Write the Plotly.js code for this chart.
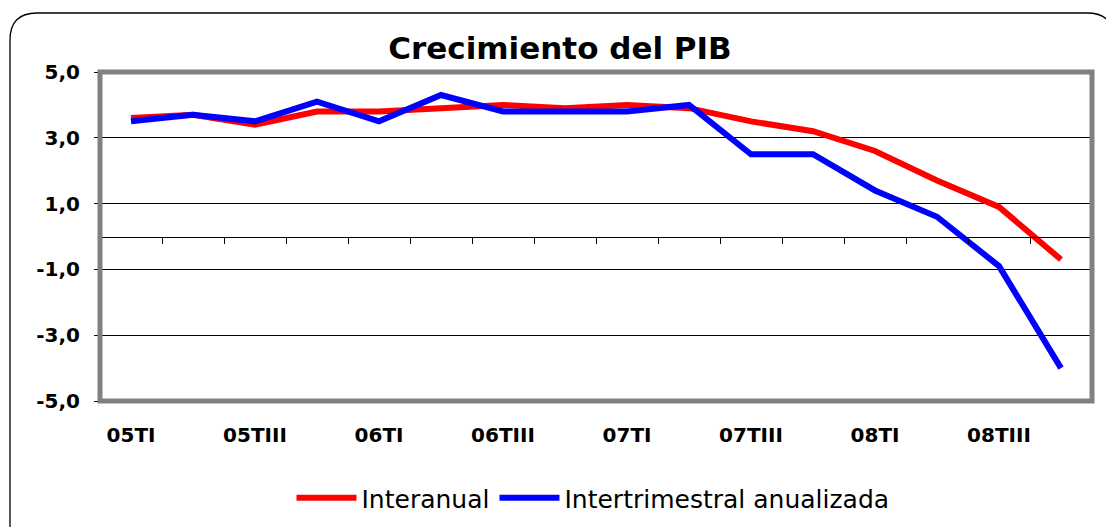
<!DOCTYPE html>
<html>
<head>
<meta charset="utf-8">
<script src="https://cdn.plot.ly/plotly-3.0.1.min.js"></script>
<style>html,body{margin:0;padding:0;background:#fff;}#chart{width:1106px;height:527px;}</style>
</head>
<body>
<div id="chart"></div>
<script>
var categories = ["05TI","05TII","05TIII","05TIV","06TI","06TII","06TIII","06TIV","07TI","07TII","07TIII","07TIV","08TI","08TII","08TIII","08TIV"];
var interanual = [3.6,3.7,3.4,3.8,3.8,3.9,4.0,3.9,4.0,3.9,3.5,3.2,2.6,1.7,0.9,-0.7];
var intertrimestral = [3.5,3.7,3.5,4.1,3.5,4.3,3.8,3.8,3.8,4.0,2.5,2.5,1.4,0.6,-0.9,-4.0];
var yTicks = [-5,-3,-1,1,3,5];
var xTickLabels = ["05TI","05TIII","06TI","06TIII","07TI","07TIII","08TI","08TIII"];
var seriesNames = ["Interanual","Intertrimestral anualizada"];

var W = 1106, H = 527;
var M = {l:100, r:14, t:72, b:126};
var pw = W - M.l - M.r, ph = H - M.t - M.b;
function px(x){ return (x - M.l)/pw; }
function py(y){ return (H - M.b - y)/ph; }

// outer rounded frame (pixel geometry converted to paper)
var L=10, T=13, R=1114, B=545, rad=27;
var framePath = 'M'+px(L)+','+py(B)+' L'+px(L)+','+py(T+rad)+
  ' Q'+px(L)+','+py(T)+' '+px(L+rad)+','+py(T)+
  ' L'+px(R-rad)+','+py(T)+' Q'+px(R)+','+py(T)+' '+px(R)+','+py(T+rad)+
  ' L'+px(R)+','+py(B);

var nb = categories.length;
var bounds = [];
for (var i=0;i<=nb;i++) bounds.push(i-0.5);

var yMin=-5, yMax=5;
var fontBold = {family:'DejaVu Sans', size:20, color:'#000', weight:'bold'};

var data = [
  {x:categories, y:interanual, type:'scatter', mode:'lines', name:seriesNames[0],
   line:{color:'#ff0000', width:6}, hoverinfo:'skip'},
  {x:categories, y:intertrimestral, type:'scatter', mode:'lines', name:seriesNames[1],
   line:{color:'#0000ff', width:6}, hoverinfo:'skip'},
  {x:[], y:[], xaxis:'x2', yaxis:'y', type:'scatter', mode:'lines', showlegend:false, hoverinfo:'skip'}
];

var layout = {
  width:W, height:H,
  margin:{l:M.l, r:M.r, t:M.t, b:M.b, pad:0, autoexpand:false},
  paper_bgcolor:'#fff', plot_bgcolor:'#fff',
  showlegend:true,
  title:{text:'Crecimiento del PIB', font:{family:'DejaVu Sans', size:31, color:'#000', weight:'bold'},
         x:px(560), xref:'paper', xanchor:'center', y:1-48/H, yref:'container', yanchor:'middle'},
  xaxis:{type:'category', categoryorder:'array', categoryarray:categories,
         range:[-0.5, nb-0.5], tickvals:xTickLabels, ticktext:xTickLabels,
         ticks:'', showline:false, showgrid:false, zeroline:false, automargin:false,
         tickfont:fontBold, ticklabelstandoff:20, fixedrange:true},
  xaxis2:{overlaying:'x', anchor:'free', position:(0-yMin)/(yMax-yMin), side:'bottom',
          range:[-0.5, nb-0.5], tickvals:bounds, ticks:'outside', ticklen:6, tickwidth:1,
          tickcolor:'#000', showline:true, linecolor:'#000', linewidth:1,
          showticklabels:false, showgrid:false, zeroline:false, fixedrange:true},
  yaxis:{range:[yMin,yMax], tickvals:yTicks,
         ticktext:yTicks.map(function(v){return v.toFixed(1).replace('.',',');}),
         ticks:'outside', ticklen:5, tickcolor:'#000', tickwidth:1, automargin:false,
         showgrid:true, gridcolor:'#000', gridwidth:1, zeroline:false, showline:false,
         tickfont:fontBold, ticklabelstandoff:10, fixedrange:true},
  legend:{orientation:'h', x:px(593), xanchor:'center', y:py(498), yanchor:'middle',
          font:{family:'DejaVu Sans', size:25, color:'#000'}, itemwidth:60,
          bgcolor:'rgba(0,0,0,0)', tracegroupgap:0},
  shapes:[
    {type:'rect', xref:'paper', yref:'paper', x0:0, x1:1, y0:0, y1:1,
     line:{color:'#808080', width:5}, layer:'above'},
    {type:'path', xref:'paper', yref:'paper', path:framePath,
     line:{color:'#000', width:1.3}, layer:'above'}
  ]
};

Plotly.newPlot('chart', data, layout, {displayModeBar:false, staticPlot:true});
</script>
</body>
</html>
